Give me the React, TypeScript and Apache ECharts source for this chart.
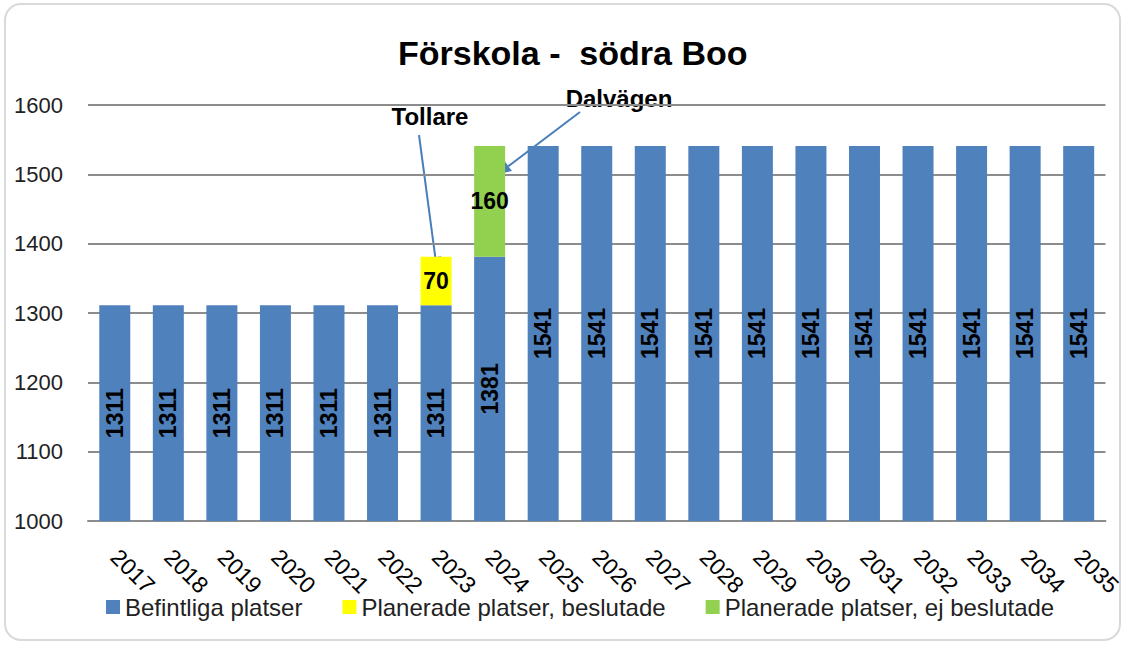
import React, { useEffect, useRef } from "react";
import * as echarts from "echarts";

const years = ["2017","2018","2019","2020","2021","2022","2023","2024","2025","2026","2027","2028","2029","2030","2031","2032","2033","2034","2035"];
const befintliga = [1311,1311,1311,1311,1311,1311,1311,1381,1541,1541,1541,1541,1541,1541,1541,1541,1541,1541,1541];
const beslutade = [null,null,null,null,null,null,70,null,null,null,null,null,null,null,null,null,null,null,null];
const ejBeslutade = [null,null,null,null,null,null,null,160,null,null,null,null,null,null,null,null,null,null,null];
const seriesNames = ["Befintliga platser", "Planerade platser, beslutade", "Planerade platser, ej beslutade"];
const yTicks = { min: 1000, max: 1600, interval: 100 };

const FONT = "'Liberation Sans', Arial, sans-serif";
const ARROW = "#4A7EBB";

function arrow(x1: number, y1: number, x2: number, y2: number) {
  const dx = x2 - x1, dy = y2 - y1;
  const len = Math.sqrt(dx * dx + dy * dy);
  const ux = dx / len, uy = dy / len;
  const hl = 13, hw = 6;
  const bx = x2 - ux * hl, by = y2 - uy * hl;
  const nx = -uy, ny = ux;
  return [
    { type: "line", shape: { x1, y1, x2: bx, y2: by }, style: { stroke: ARROW, lineWidth: 2 } },
    {
      type: "polygon",
      shape: { points: [[x2, y2], [bx + nx * hw, by + ny * hw], [bx - nx * hw, by - ny * hw]] },
      style: { fill: ARROW },
    },
  ];
}

export default function App() {
  const ref = useRef<HTMLDivElement>(null);
  useEffect(() => {
    document.body.style.margin = "0";
    const chart = echarts.init(ref.current!, null, { renderer: "svg" });
    const labelBase = { fontFamily: FONT, fontWeight: "bold", fontSize: 23, color: "#000" };
    chart.setOption({
      animation: false,
      backgroundColor: "#fff",
      title: {
        text: "Förskola -  södra Boo",
        left: 393,
        top: 31,
        textStyle: { fontFamily: FONT, fontWeight: "bold", fontSize: 34, color: "#000" },
      },
      legend: {
        data: seriesNames,
        bottom: 21,
        left: 101,
        itemWidth: 14,
        itemHeight: 14,
        itemGap: 40,
        icon: "rect",
        textStyle: { fontFamily: FONT, fontSize: 24, color: "#222" },
      },
      grid: { left: 88, right: 15, top: 105, bottom: 124 },
      xAxis: {
        type: "category",
        data: years,
        axisLine: { lineStyle: { color: "#8c8c8c", width: 2 } },
        axisTick: { show: false },
        axisLabel: { rotate: -45, margin: 32, fontFamily: FONT, fontSize: 23, color: "#000", interval: 0 },
      },
      yAxis: {
        type: "value",
        min: yTicks.min,
        max: yTicks.max,
        interval: yTicks.interval,
        axisLine: { show: false },
        axisTick: { show: false },
        splitLine: { lineStyle: { color: "#8c8c8c", width: 2 } },
        axisLabel: { margin: 25, fontFamily: FONT, fontSize: 22, color: "#222", formatter: (v: number) => String(v) },
      },
      series: [
        {
          name: seriesNames[0],
          type: "bar",
          stack: "total",
          barWidth: 31,
          data: befintliga,
          itemStyle: { color: "#4F81BD" },
          label: { show: true, position: "inside", rotate: 90, ...labelBase },
        },
        {
          name: seriesNames[1],
          type: "bar",
          stack: "total",
          barWidth: 31,
          data: beslutade,
          itemStyle: { color: "#FFFF00" },
          label: { show: true, position: "inside", ...labelBase },
        },
        {
          name: seriesNames[2],
          type: "bar",
          stack: "total",
          barWidth: 31,
          data: ejBeslutade,
          itemStyle: { color: "#92D050" },
          label: { show: true, position: "inside", ...labelBase },
        },
      ],
      graphic: [
        {
          type: "rect",
          shape: { x: 5, y: 4, width: 1115, height: 636, r: 16 },
          style: { fill: "none", stroke: "#d9d9d9", lineWidth: 2 },
          silent: true,
        },
        {
          type: "text",
          x: 430,
          y: 116,
          style: { text: "Tollare", fontFamily: FONT, fontWeight: "bold", fontSize: 24, fill: "#000", align: "center", verticalAlign: "middle" },
        },
        {
          type: "text",
          x: 619,
          y: 98,
          style: { text: "Dalvägen", fontFamily: FONT, fontWeight: "bold", fontSize: 24, fill: "#000", align: "center", verticalAlign: "middle" },
        },
        ...arrow(419, 135, 437, 270),
        ...arrow(580, 112, 498, 174),
      ],
    });
    return () => chart.dispose();
  }, []);
  return <div ref={ref} style={{ width: 1125, height: 645, position: "absolute", left: 0, top: 0 }} />;
}
